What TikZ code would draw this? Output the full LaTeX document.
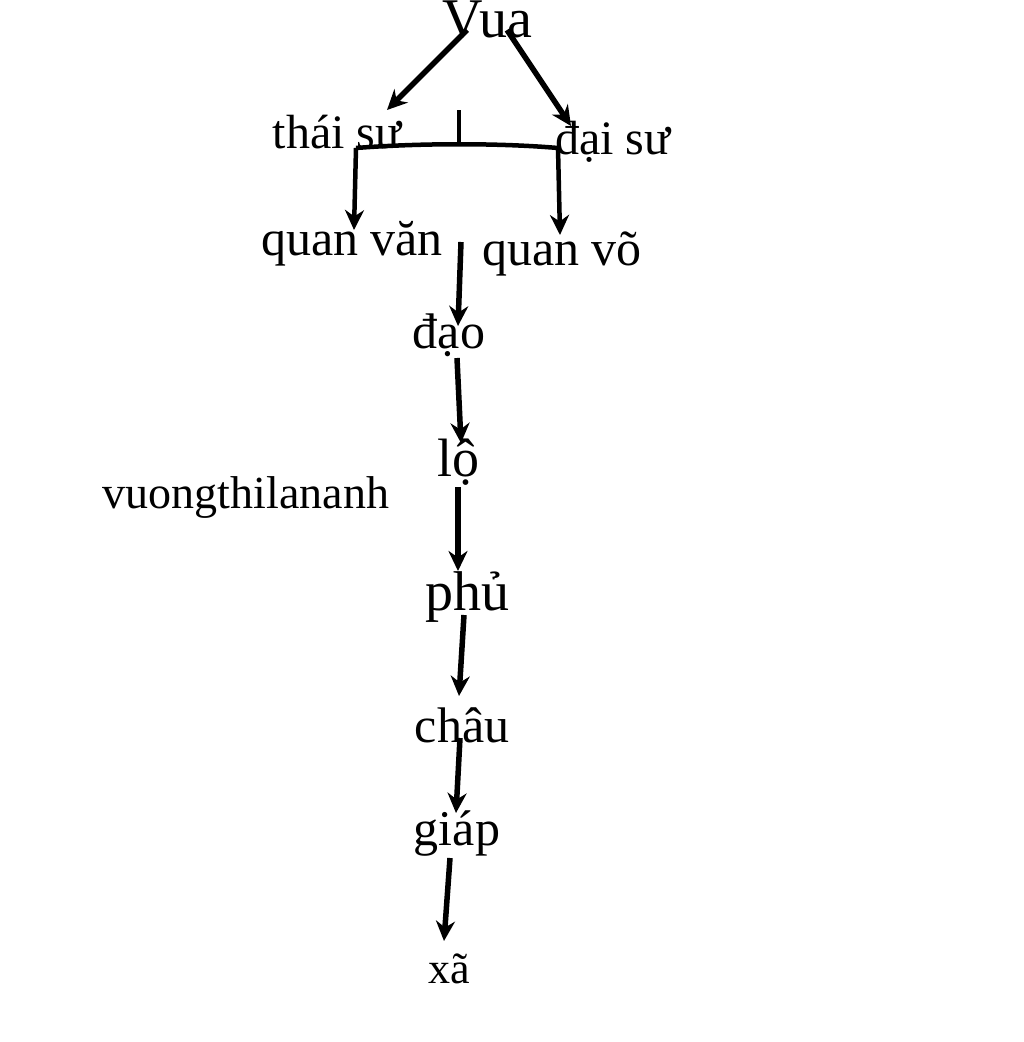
\documentclass[tikz,border=0pt]{standalone}
\usepackage{fontspec}
\setmainfont{Liberation Serif}
\usetikzlibrary{arrows.meta}
\begin{document}
\begin{tikzpicture}[x=1pt,y=-1pt,
  lbl/.style={inner sep=0pt,anchor=center},
  tip/.style={-{Stealth[length=20pt,width=19pt]}},
  arr/.style={line width=5.5pt,tip},
  ln/.style={line width=4.5pt}]
\useasboundingbox[fill=white] (0,0) rectangle (1024,1042);
\node[lbl,font=\fontsize{56}{56}\selectfont] (vua) at (487,20) {Vua};
\node[lbl,font=\fontsize{48}{48}\selectfont] (thai) at (337,132) {thái sư};
\node[lbl,font=\fontsize{48}{48}\selectfont] (dai) at (613,142) {đại sư};
\node[lbl,font=\fontsize{50}{50}\selectfont] (van) at (352,244) {quan văn};
\node[lbl,font=\fontsize{50}{50}\selectfont] (vo) at (562,254) {quan võ};
\node[lbl,font=\fontsize{50}{50}\selectfont] (dao) at (449,335) {đạo};
\node[lbl,font=\fontsize{54}{54}\selectfont] (lo) at (458,462) {lộ};
\node[lbl,font=\fontsize{46}{46}\selectfont] (vt) at (246,497) {vuongthilananh};
\node[lbl,font=\fontsize{56}{56}\selectfont] (phu) at (467,597) {phủ};
\node[lbl,font=\fontsize{50}{50}\selectfont] (chau) at (462,725) {châu};
\node[lbl,font=\fontsize{50}{50}\selectfont] (giap) at (457,834) {giáp};
\node[lbl,font=\fontsize{44}{44}\selectfont] (xa) at (449,969) {xã};
\coordinate (v1) at (467,30); \coordinate (t1) at (387,110);
\coordinate (v2) at (507,30); \coordinate (d1) at (571,126);
\coordinate (bl) at (354,230); \coordinate (br) at (560,235);
\coordinate (tk) at (459,110); \coordinate (tm) at (459,145);
\draw[ln] (tk) -- (tm);
\draw[arr] (v1) -- (t1);
\draw[arr] (v2) -- (d1);
\draw[ln,tip] (356,148) .. controls (420,143) and (500,143) .. (558,148) -- (br);
\draw[ln,tip] (356,148) -- (bl);
\draw[arr] (461,242) -- (458,326);
\draw[arr] (457,358) -- (461,443);
\draw[arr] (458,487) -- (458,571);
\draw[arr] (464,615) -- (459,696);
\draw[arr] (460,738) -- (456,813);
\draw[arr] (450,858) -- (444,941);
\end{tikzpicture}
\end{document}
